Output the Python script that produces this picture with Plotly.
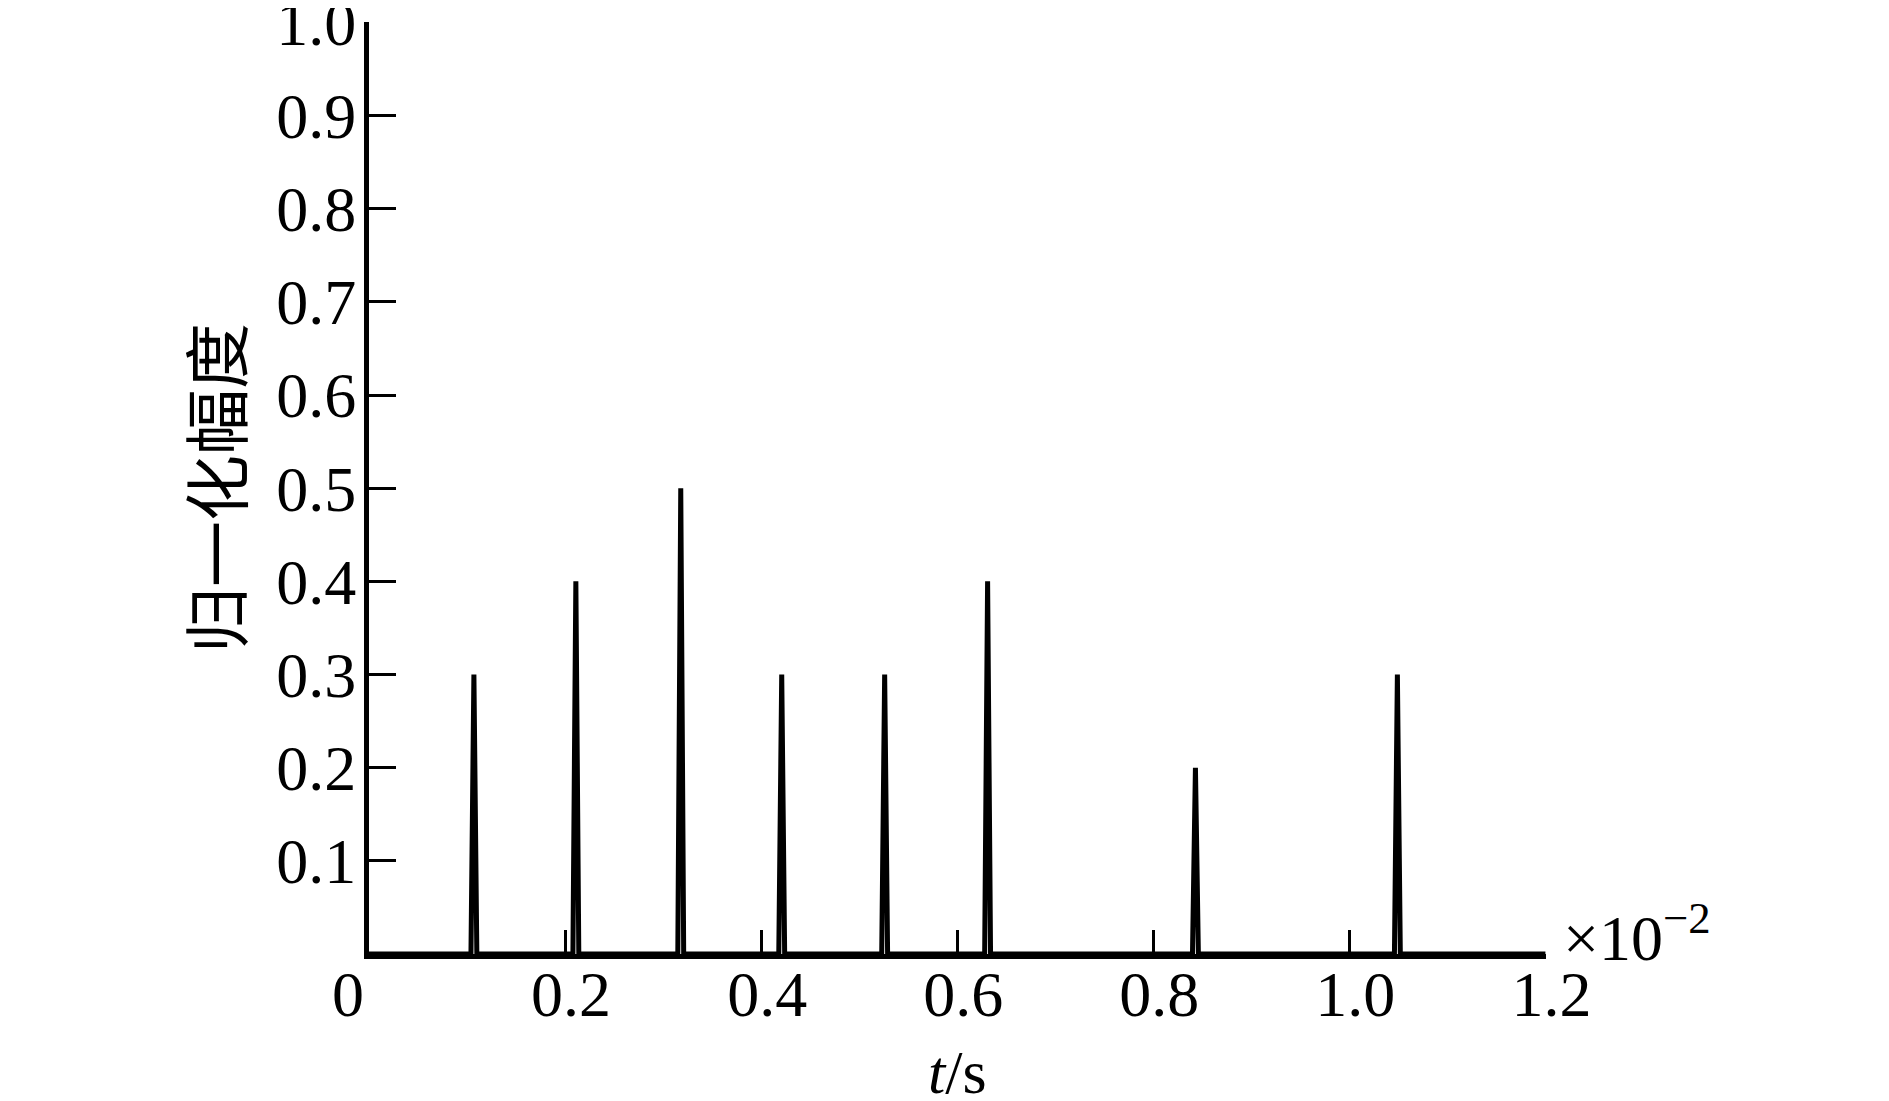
"""Normalised amplitude pulse train: spikes over time (t in units of 1e-2 s)."""
import plotly.graph_objects as go

# pulse arrival times (x 10^-2 s) and normalised amplitudes
PULSE_TIMES = [0.107, 0.211, 0.318, 0.421, 0.526, 0.631, 0.843, 1.049]
PULSE_AMPS = [0.3, 0.4, 0.5, 0.3, 0.3, 0.4, 0.2, 0.3]

X_TICKS = [0.2, 0.4, 0.6, 0.8, 1.0, 1.2]
X_TICK_TEXT = ["0.2", "0.4", "0.6", "0.8", "1.0", "1.2"]
Y_TICKS = [0.1, 0.2, 0.3, 0.4, 0.5, 0.6, 0.7, 0.8, 0.9, 1.0]
Y_TICK_TEXT = ["0.1", "0.2", "0.3", "0.4", "0.5", "0.6", "0.7", "0.8", "0.9", "1.0"]

SERIF = "Liberation Serif"
CJK = "Noto Sans CJK SC"
HALF_W = 0.003  # half base width of each spike, in axis units

# build the signal: flat zero with a narrow spike at each pulse
xs, ys = [0.0], [0.0]
for t, a in zip(PULSE_TIMES, PULSE_AMPS):
    xs += [t - HALF_W, t, t + HALF_W]
    ys += [0.0, a, 0.0]
xs.append(1.2)
ys.append(0.0)

fig = go.Figure(
    go.Scatter(x=xs, y=ys, mode="lines", line=dict(color="black", width=5), hoverinfo="skip")
)

axis_common = dict(
    showline=True,
    linecolor="black",
    linewidth=5,
    ticks="inside",
    tickcolor="black",
    tickwidth=3,
    showgrid=False,
    zeroline=False,
    automargin=False,
    ticklabeloverflow="allow",
    tickfont=dict(family=SERIF, size=64, color="black"),
)

# ranges padded a hair so the end ticks (1.0 and 1.2) are not dropped
fig.update_xaxes(
    range=[0, 1.2006],
    tickvals=X_TICKS,
    ticktext=X_TICK_TEXT,
    ticklen=24,
    ticklabelshift=6,
    ticklabelstandoff=-20,
    **axis_common,
)
fig.update_yaxes(
    range=[0, 1.0005],
    tickvals=Y_TICKS,
    ticktext=Y_TICK_TEXT,
    ticklen=27,
    ticklabelstandoff=-5,
    title=dict(text="归一化幅度", font=dict(family=CJK, size=66, color="black"), standoff=14),
    **axis_common,
)

# time-axis title, centred under the plot
fig.add_annotation(
    x=0.5, y=0, xref="paper", yref="paper", text="<i>t</i>/s", showarrow=False,
    xanchor="center", yanchor="middle", yshift=-118,
    font=dict(family=SERIF, size=62, color="black"),
)
# origin label sits a little left of the axis corner
fig.add_annotation(
    x=0, y=0, xref="x", yref="y", text="0", showarrow=False,
    xanchor="center", yanchor="top", xshift=-21, yshift=-3,
    font=dict(family=SERIF, size=64, color="black"),
)
# axis multiplier at the end of the time axis
fig.add_annotation(
    x=1.2, y=0, xref="x", yref="y", text="×10<sup>−2</sup>", showarrow=False,
    xanchor="left", yanchor="bottom", xshift=16, yshift=-22,
    font=dict(family=SERIF, size=64, color="black"),
)

# page body adds 8px around the div, so the figure is 8px smaller each way
fig.update_layout(
    width=1881,
    height=1093,
    plot_bgcolor="white",
    paper_bgcolor="white",
    showlegend=False,
    margin=dict(l=361, r=343, t=14, b=147),
)

fig.write_html("out.html")
